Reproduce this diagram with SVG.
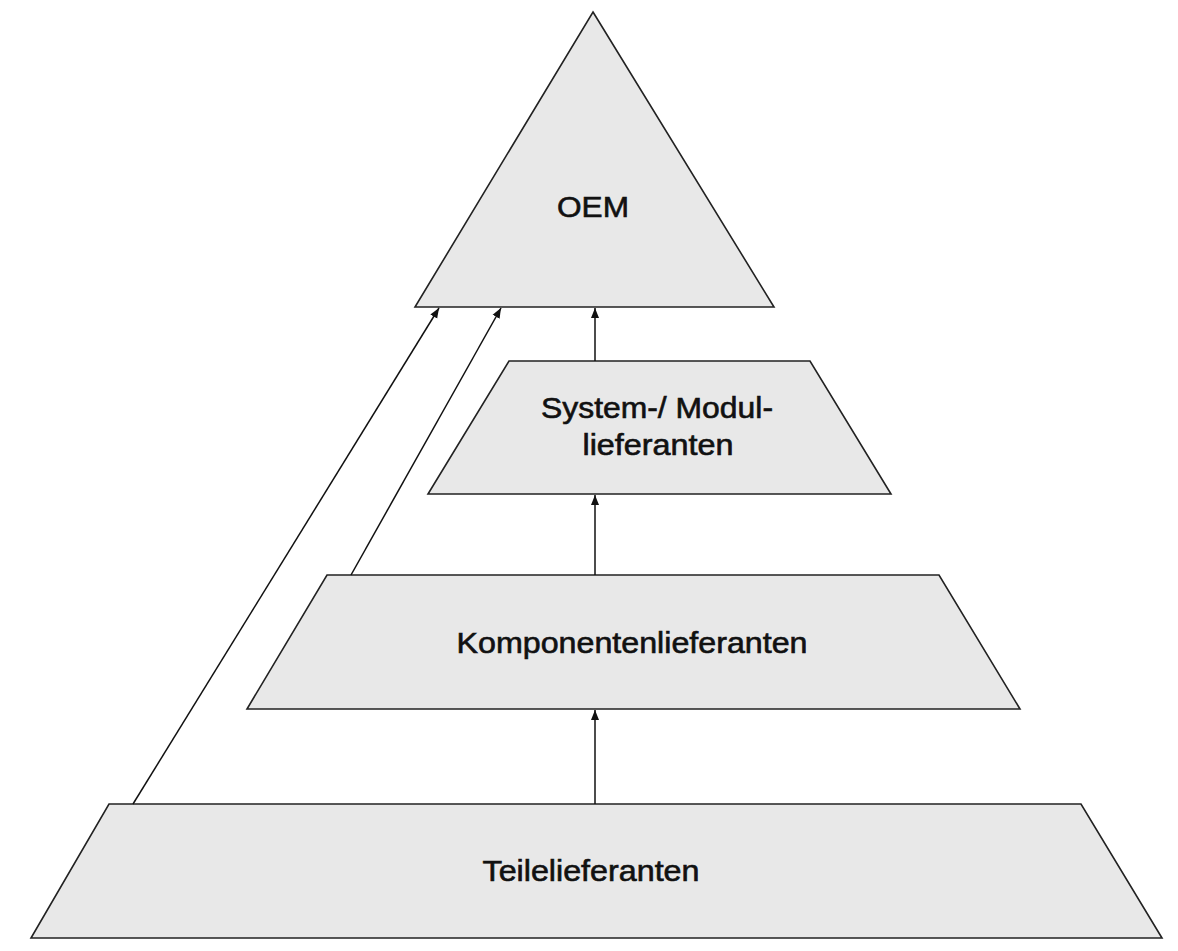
<svg xmlns="http://www.w3.org/2000/svg" width="1178" height="951" viewBox="0 0 1178 951">
<style>
.shape{fill:#e8e8e8;stroke:#222;stroke-width:1.6;stroke-linejoin:miter}
.lbl{font-family:"Liberation Sans",Arial,sans-serif;font-size:29px;fill:#111;stroke:#111;stroke-width:0.6;text-anchor:middle}
.conn{stroke:#111;stroke-width:1.5;fill:none;marker-end:url(#ah)}
</style>
<defs>
<marker id="ah" viewBox="0 0 10 10" refX="10" refY="5" markerWidth="10" markerHeight="10" markerUnits="userSpaceOnUse" orient="auto">
<path d="M0,1 L10,5 L0,9 Z" fill="#111"/>
</marker>
</defs>
<rect width="1178" height="951" fill="#fff"/>
<g id="oem">
<polygon class="shape" points="593,12 774,307 415,307"/>
<text class="lbl" x="593" y="217" textLength="72" lengthAdjust="spacingAndGlyphs">OEM</text>
</g>
<g id="system">
<polygon class="shape" points="509,361 810,361 891,494 428,494"/>
<text class="lbl" x="657" y="418" textLength="232" lengthAdjust="spacingAndGlyphs">System-/ Modul-</text>
<text class="lbl" x="658" y="455" textLength="151" lengthAdjust="spacingAndGlyphs">lieferanten</text>
</g>
<g id="komponenten">
<polygon class="shape" points="327,575 939,575 1020,709 247,709"/>
<text class="lbl" x="632" y="653" textLength="351" lengthAdjust="spacingAndGlyphs">Komponentenlieferanten</text>
</g>
<g id="teile">
<polygon class="shape" points="109,804 1081,804 1162,938 31,938"/>
<text class="lbl" x="591" y="881" textLength="217" lengthAdjust="spacingAndGlyphs">Teilelieferanten</text>
</g>
<g id="connectors">
<line class="conn" x1="595" y1="361" x2="595" y2="308"/>
<line class="conn" x1="595" y1="575" x2="595" y2="495"/>
<line class="conn" x1="595" y1="804" x2="595" y2="710"/>
<line class="conn" x1="133" y1="804" x2="439" y2="308"/>
<line class="conn" x1="351" y1="575" x2="501" y2="308"/>
</g>
</svg>
